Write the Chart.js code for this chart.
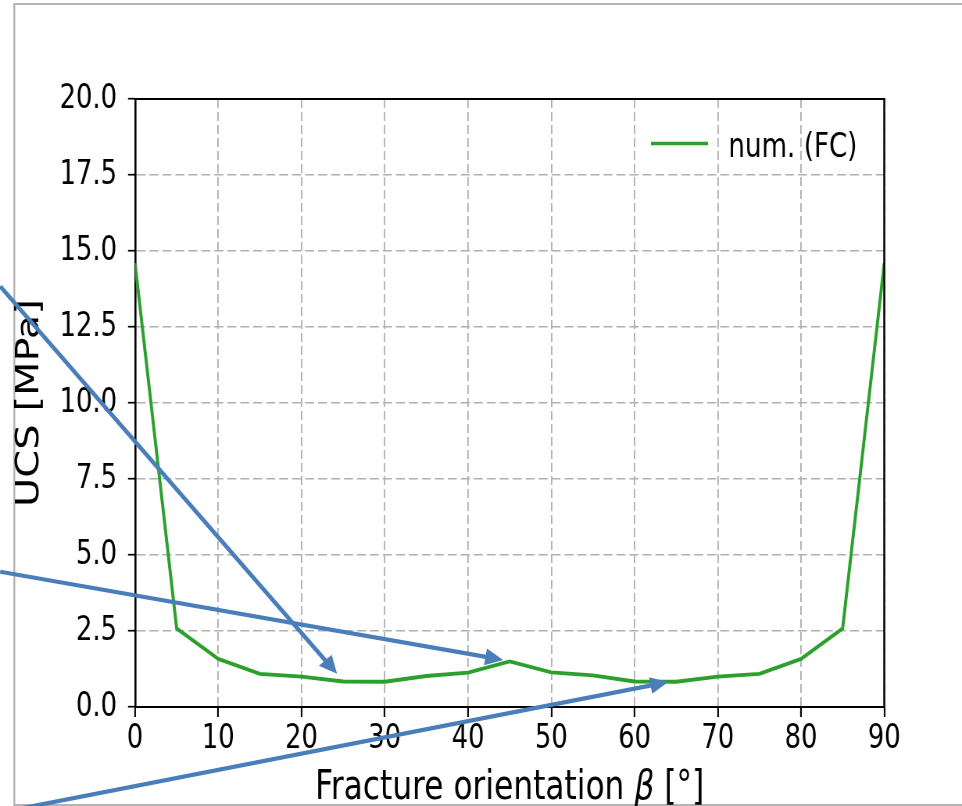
<!DOCTYPE html>
<html>
<head>
<meta charset="utf-8">
<script src="https://cdn.jsdelivr.net/npm/chart.js@4.4.1/dist/chart.umd.min.js"></script>
<style>
html,body{margin:0;padding:0;background:#fff;overflow:hidden}
canvas{display:block}
</style>
</head>
<body>
<canvas id="c" width="1231" height="806" style="width:962px;height:806px"></canvas>
<script>
// ---- data ----
const orientations = [0, 5, 10, 15, 20, 25, 30, 35, 40, 45, 50, 55, 60, 65, 70, 75, 80, 85, 90];
const ucsFC = [14.6, 2.58, 1.58, 1.09, 1.0, 0.84, 0.83, 1.02, 1.13, 1.5, 1.14, 1.04, 0.84, 0.83, 1.0, 1.09, 1.58, 2.58, 14.6];
const seriesLabel = 'num. (FC)';
const xTickValues = [0, 10, 20, 30, 40, 50, 60, 70, 80, 90];
const yTickValues = [0, 2.5, 5, 7.5, 10, 12.5, 15, 17.5, 20];
const xTitleParts = ['Fracture orientation ', 'β', ' [°]'];
const yTitle = 'UCS [MPa]';
// annotation arrows in data units: start points and tips
const arrowStarts = [[-16.2, 13.84], [-16.2, 4.45], [-13.8, -3.34]];
const arrowTips = [[24.27, 1.09], [44.22, 1.55], [64.05, 0.82]];

// ---- rendering ----
const K = 1231 / 962; // horizontal compression of the canvas
const FONT = "'DejaVu Sans', sans-serif";

const framePlugin = {
  id: 'frame',
  beforeDraw(chart) {
    const ctx = chart.ctx;
    ctx.save();
    ctx.fillStyle = '#fff';
    ctx.fillRect(0, 0, chart.width, chart.height);
    ctx.strokeStyle = '#b4b4b4';
    ctx.lineWidth = 2.4;
    ctx.beginPath();
    ctx.moveTo(18.3, 3); ctx.lineTo(18.3, 806);
    ctx.stroke();
    ctx.lineWidth = 1.8;
    ctx.beginPath();
    ctx.moveTo(17, 4); ctx.lineTo(chart.width, 4);
    ctx.moveTo(17, 805); ctx.lineTo(chart.width, 805);
    ctx.stroke();
    ctx.restore();
  }
};

const spinePlugin = {
  id: 'spines',
  afterDatasetsDraw(chart) {
    const {ctx, chartArea: a} = chart;
    ctx.save();
    ctx.strokeStyle = '#000';
    ctx.lineWidth = 1.8;
    ctx.beginPath();
    ctx.moveTo(a.left - 1.2, a.top); ctx.lineTo(a.right + 1.2, a.top);
    ctx.stroke();
    ctx.lineWidth = 2.5;
    ctx.beginPath();
    ctx.moveTo(a.right, a.top); ctx.lineTo(a.right, a.bottom);
    ctx.stroke();
    ctx.restore();
  }
};

const legendPlugin = {
  id: 'innerLegend',
  afterDraw(chart) {
    const ctx = chart.ctx;
    const ds = chart.data.datasets[0];
    ctx.save();
    ctx.strokeStyle = ds.borderColor;
    ctx.lineWidth = 3.6;
    ctx.beginPath();
    ctx.moveTo(833, 143.5); ctx.lineTo(906, 143.5);
    ctx.stroke();
    ctx.fillStyle = '#000';
    ctx.font = "33.5px " + FONT;
    ctx.textAlign = 'left';
    ctx.textBaseline = 'alphabetic';
    ctx.fillText(ds.label, 932, 156.5);
    ctx.restore();
  }
};

const xTitlePlugin = {
  id: 'xTitle',
  afterDraw(chart) {
    const ctx = chart.ctx;
    const a = chart.chartArea;
    const normal = "40px " + FONT;
    const italic = "italic 40px " + FONT;
    ctx.save();
    ctx.fillStyle = '#000';
    ctx.textBaseline = 'alphabetic';
    ctx.textAlign = 'left';
    const fonts = [normal, italic, normal];
    let widths = xTitleParts.map((t, i) => { ctx.font = fonts[i]; return ctx.measureText(t).width; });
    const total = widths.reduce((s, w) => s + w, 0);
    let x = (a.left + a.right) / 2 - total / 2;
    xTitleParts.forEach((t, i) => {
      ctx.font = fonts[i];
      ctx.fillText(t, x, 798.5);
      x += widths[i];
    });
    ctx.restore();
  }
};

const arrowPlugin = {
  id: 'arrows',
  afterDraw(chart) {
    const ctx = chart.ctx;
    const xs = chart.scales.x, ys = chart.scales.y;
    ctx.save();
    ctx.scale(K, 1); // draw in display space so the arrows look isotropic
    ctx.strokeStyle = '#4a7ebb';
    ctx.fillStyle = '#4a7ebb';
    ctx.lineWidth = 4.2;
    ctx.lineCap = 'butt';
    for (let i = 0; i < arrowStarts.length; i++) {
      const x0 = xs.getPixelForValue(arrowStarts[i][0]) / K;
      const y0 = ys.getPixelForValue(arrowStarts[i][1]);
      const x1 = xs.getPixelForValue(arrowTips[i][0]) / K;
      const y1 = ys.getPixelForValue(arrowTips[i][1]);
      const dx = x1 - x0, dy = y1 - y0;
      const len = Math.hypot(dx, dy);
      const ux = dx / len, uy = dy / len;
      const hl = 18, hw = 8.5;
      const bx = x1 - ux * hl, by = y1 - uy * hl;
      ctx.beginPath();
      ctx.moveTo(x0, y0);
      ctx.lineTo(bx + ux * 2, by + uy * 2);
      ctx.stroke();
      ctx.beginPath();
      ctx.moveTo(x1, y1);
      ctx.lineTo(bx - uy * hw, by + ux * hw);
      ctx.lineTo(bx + uy * hw, by - ux * hw);
      ctx.closePath();
      ctx.fill();
    }
    ctx.restore();
  }
};

new Chart(document.getElementById('c'), {
  type: 'line',
  data: {
    datasets: [{
      label: seriesLabel,
      data: orientations.map((x, i) => ({x: x, y: ucsFC[i]})),
      borderColor: '#2ca02c',
      backgroundColor: '#2ca02c',
      borderWidth: 3.9,
      pointRadius: 0,
      tension: 0,
      fill: false
    }]
  },
  options: {
    responsive: false,
    devicePixelRatio: 1,
    animation: false,
    layout: {padding: {top: 99, right: 99.5, left: 0, bottom: 0}},
    plugins: {legend: {display: false}, tooltip: {enabled: false}},
    scales: {
      x: {
        type: 'linear',
        min: 0, max: 90,
        afterBuildTicks(scale) { scale.ticks = xTickValues.map(v => ({value: v})); },
        afterFit(scale) { scale.height = 99; },
        ticks: {
          color: '#000',
          font: {family: FONT, size: 33},
          padding: 2.5,
          maxRotation: 0,
          autoSkip: false,
          callback: v => String(v)
        },
        grid: {
          color: '#b0b0b0',
          lineWidth: 1.8,
          tickLength: 10,
          tickColor: '#000',
          tickWidth: 2.1,
          tickBorderDash: []
        },
        border: {display: true, color: '#000', width: 1.9, dash: [9, 4]},
        title: {display: false}
      },
      y: {
        type: 'linear',
        min: 0, max: 20,
        afterBuildTicks(scale) { scale.ticks = yTickValues.map(v => ({value: v})); },
        afterFit(scale) { scale.width = 172.8; },
        ticks: {
          color: '#000',
          font: {family: FONT, size: 33},
          padding: 14,
          autoSkip: false,
          callback: v => Number(v).toFixed(1)
        },
        grid: {
          color: '#b0b0b0',
          lineWidth: 1.4,
          tickLength: 9,
          tickColor: '#000',
          tickWidth: 1.7,
          tickBorderDash: []
        },
        border: {display: true, color: '#000', width: 2.6, dash: [11.5, 5.1]},
        title: {
          display: true,
          text: yTitle,
          color: '#000',
          font: {family: FONT, size: 40, lineHeight: 1},
          padding: {top: 19, bottom: 0}
        }
      }
    }
  },
  plugins: [framePlugin, spinePlugin, legendPlugin, xTitlePlugin, arrowPlugin]
});
</script>
</body>
</html>
